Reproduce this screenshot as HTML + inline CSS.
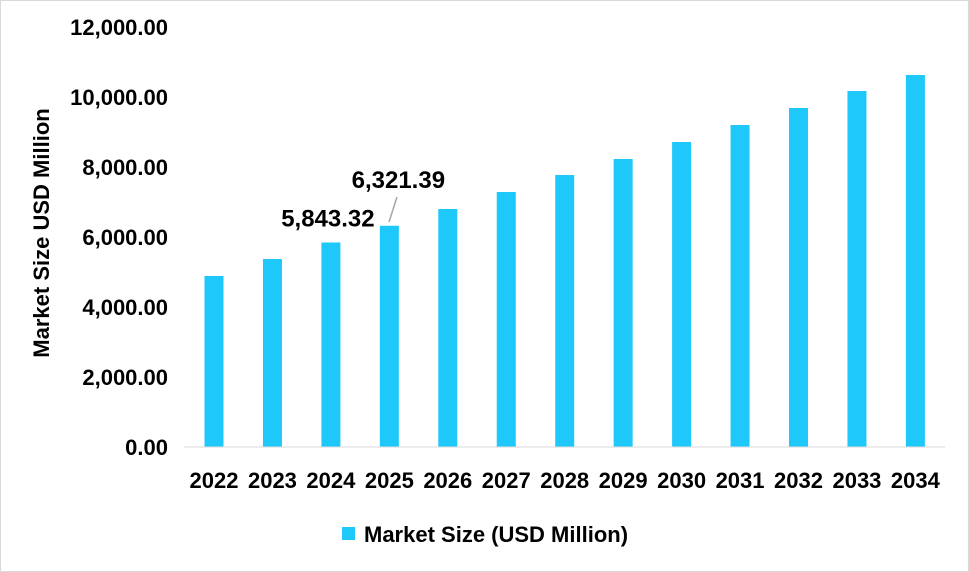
<!DOCTYPE html>
<html><head><meta charset="utf-8"><style>
body{margin:0;background:#fff;}
svg{display:block;font-family:"Liberation Sans",Arial,sans-serif;}
</style></head><body>
<svg width="969" height="572">
<rect x="0.5" y="0.5" width="968" height="571" fill="#fff" stroke="#d9d9d9"/>
<g id="yaxis"></g>
<g id="bars"></g>
<g id="xaxis"></g>
<line x1="184" y1="447" x2="945" y2="447" stroke="#d9d9d9"/>
<text transform="translate(49,233) rotate(-90)" text-anchor="middle" font-size="22" font-weight="bold" fill="#000">Market Size USD Million</text>
<line x1="389" y1="222" x2="397" y2="197" stroke="#a6a6a6" stroke-width="1.5"/>
<rect x="342" y="527" width="13" height="13" fill="#1ec8fa"/>
<text x="364" y="542" font-size="22" font-weight="bold" fill="#000">Market Size (USD Million)</text>
</svg>
<script>
const years=["2022","2023","2024","2025","2026","2027","2028","2029","2030","2031","2032","2033","2034"];
const values=[4886,5371,5843.32,6321.39,6800,7286,7771,8229,8714,9200,9686,10171,10629];
const yTicks=[0,2000,4000,6000,8000,10000,12000];
const yTickLabels=["0.00","2,000.00","4,000.00","6,000.00","8,000.00","10,000.00","12,000.00"];
const labelled=[2,3];
const NS="http://www.w3.org/2000/svg";
const y=v=>447-v*(420/12000);
const x=i=>214+i*58.45;
function mk(t,a,p){const e=document.createElementNS(NS,t);for(const k in a)e.setAttribute(k,a[k]);p.appendChild(e);return e;}
const ya=document.getElementById('yaxis'),ba=document.getElementById('bars'),xa=document.getElementById('xaxis'),svg=document.querySelector('svg');
yTicks.forEach((v,i)=>{const t=mk('text',{x:168,y:y(v)+8,'text-anchor':'end','font-size':22,'font-weight':'bold'},ya);t.textContent=yTickLabels[i];

});
years.forEach((yr,i)=>{const r=mk('rect',{x:x(i)-9.5,y:y(values[i]),width:19,height:447-y(values[i]),fill:'#1ec8fa'},ba);


const t=mk('text',{x:x(i),y:488,'text-anchor':'middle','font-size':22,'font-weight':'bold'},xa);t.textContent=yr;

});
labelled.forEach((i,k)=>{const fmt=values[i].toLocaleString('en-US',{minimumFractionDigits:2,maximumFractionDigits:2});
const lx=k==0?x(i)-3:x(i)+9, ly=k==0?y(values[i])-16:y(values[i])-38;
const t=mk('text',{x:lx,y:ly,'text-anchor':'middle','font-size':24,'font-weight':'bold'},svg);t.textContent=fmt;

});
</script>
</body></html>
